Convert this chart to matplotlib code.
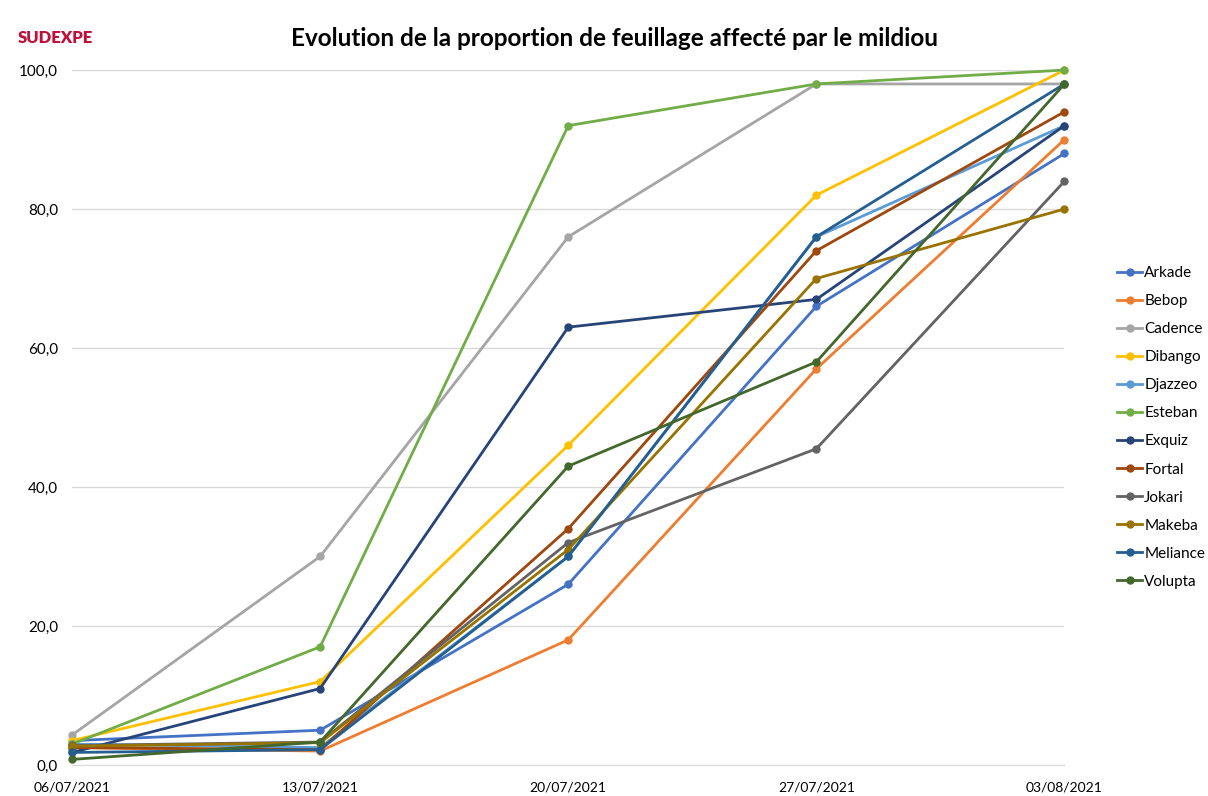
import numpy as np
import matplotlib.pyplot as plt
from matplotlib.ticker import FuncFormatter

plt.rcParams['font.family'] = ['Lato', 'DejaVu Sans']

# observation dates and % of foliage affected by mildew, per variety
dates = ["06/07/2021", "13/07/2021", "20/07/2021", "27/07/2021", "03/08/2021"]

arkade = [3.5, 5.0, 26, 66, 88]
bebop = [2.5, 2.0, 18, 57, 90]
cadence = [4.3, 30, 76, 98, 98]
dibango = [3.5, 12, 46, 82, 100]
djazzeo = [3.0, 2.5, 30, 76, 92]
esteban = [3.0, 17, 92, 98, 100]
exquiz = [1.8, 11, 63, 67, 92]
fortal = [2.5, 2.2, 34, 74, 94]
jokari = [2.8, 3.3, 32, 45.5, 84]
makeba = [2.7, 3.2, 31, 70, 80]
meliance = [1.8, 2.2, 30, 76, 98]
volupta = [0.8, 3.3, 43, 58, 98]

series = [
    ("Arkade", arkade, "#4472C4"),
    ("Bebop", bebop, "#ED7D31"),
    ("Cadence", cadence, "#A5A5A5"),
    ("Dibango", dibango, "#FFC000"),
    ("Djazzeo", djazzeo, "#5B9BD5"),
    ("Esteban", esteban, "#70AD47"),
    ("Exquiz", exquiz, "#264478"),
    ("Fortal", fortal, "#9E480E"),
    ("Jokari", jokari, "#636363"),
    ("Makeba", makeba, "#997300"),
    ("Meliance", meliance, "#255E91"),
    ("Volupta", volupta, "#43682B"),
]

fig = plt.figure(figsize=(12.08, 7.96), dpi=100)
ax = fig.add_axes([0.0596, 0.039, 0.8216, 0.873])

x = np.arange(len(dates))
for name, vals, col in series:
    ax.plot(x, vals, color=col, lw=2, marker='o', ms=5, label=name, clip_on=False)

ax.set_xlim(0, len(dates) - 1)
ax.set_ylim(0, 100)
ax.set_yticks(np.arange(0, 101, 20))
ax.yaxis.set_major_formatter(FuncFormatter(lambda v, p: f"{v:.1f}".replace('.', ',')))
ax.set_xticks(x)
ax.set_xticklabels(dates)
ax.tick_params(axis='both', length=0, labelsize=11)
ax.tick_params(axis='x', pad=12, labelsize=10)
ax.tick_params(axis='y', pad=10)
ax.grid(axis='y', color='#D9D9D9', lw=1)
ax.set_axisbelow(True)
for s in ['top', 'right', 'left']:
    ax.spines[s].set_visible(False)
ax.spines['bottom'].set_color('#D9D9D9')

fig.text(0.509, 0.952, "Evolution de la proportion de feuillage affecté par le mildiou",
         ha='center', va='center', fontsize=17.5, fontweight='bold')
fig.text(0.015, 0.952, "SUDEXPE", color='#C0103A', fontsize=12, fontweight='heavy',
         ha='left', va='center')

fig.legend(loc='center left', bbox_to_anchor=(0.925, 0.463), frameon=False,
           fontsize=11, handlelength=1.6, handletextpad=0.15, labelspacing=0.92,
           borderaxespad=0, borderpad=0)

fig.savefig("out.png", dpi=100)
